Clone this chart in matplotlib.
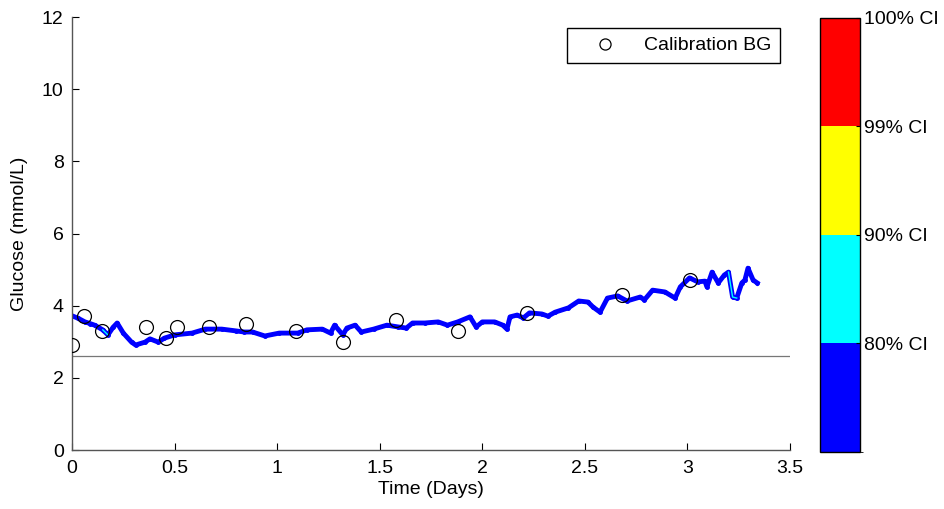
import numpy as np
import matplotlib.pyplot as plt
from matplotlib.colors import ListedColormap, BoundaryNorm
from matplotlib.cm import ScalarMappable

plt.rcParams['font.family'] = ['Liberation Sans', 'DejaVu Sans']

# CGM trace (days, mmol/L)
cgm_t = [0.0, 0.03, 0.063, 0.09, 0.11, 0.15, 0.175, 0.2, 0.22, 0.25, 0.29, 0.31,
         0.356, 0.38, 0.42, 0.45, 0.5, 0.585, 0.65, 0.73, 0.8, 0.84, 0.88, 0.94,
         1.01, 1.1, 1.145, 1.22, 1.26, 1.28, 1.32, 1.34, 1.38, 1.41, 1.47, 1.535,
         1.59, 1.63, 1.66, 1.72, 1.785, 1.83, 1.88, 1.94, 1.97, 2.0, 2.06, 2.1,
         2.12, 2.135, 2.17, 2.2, 2.23, 2.29, 2.32, 2.355, 2.42, 2.47, 2.515, 2.54,
         2.574, 2.61, 2.66, 2.705, 2.77, 2.79, 2.83, 2.89, 2.94, 2.965, 3.01, 3.05,
         3.085, 3.095, 3.12, 3.15, 3.18, 3.2, 3.22, 3.24, 3.265, 3.28, 3.295, 3.32,
         3.34]
cgm_g = [3.72, 3.65, 3.55, 3.5, 3.46, 3.33, 3.19, 3.4, 3.52, 3.24, 2.99, 2.91,
         2.99, 3.08, 2.99, 3.1, 3.19, 3.24, 3.35, 3.35, 3.3, 3.27, 3.27, 3.16,
         3.24, 3.24, 3.33, 3.35, 3.24, 3.46, 3.19, 3.38, 3.46, 3.27, 3.35, 3.46,
         3.41, 3.38, 3.52, 3.52, 3.55, 3.46, 3.55, 3.69, 3.41, 3.55, 3.55, 3.46,
         3.35, 3.69, 3.74, 3.66, 3.8, 3.77, 3.71, 3.82, 3.94, 4.13, 4.1, 3.96,
         3.82, 4.21, 4.27, 4.13, 4.24, 4.16, 4.43, 4.38, 4.21, 4.52, 4.77, 4.66,
         4.68, 4.52, 4.93, 4.63, 4.85, 4.93, 4.24, 4.21, 4.63, 4.71, 5.04, 4.71,
         4.63]

# calibration blood glucose samples
cal_t = [0.0, 0.06, 0.146, 0.36, 0.46, 0.51, 0.67, 0.85, 1.09, 1.32, 1.58, 1.88,
         2.22, 2.68, 3.01]
cal_g = [2.9, 3.7, 3.3, 3.4, 3.1, 3.4, 3.4, 3.5, 3.3, 3.0, 3.6, 3.3, 3.8, 4.3, 4.7]

hypo_line = 2.6
ci_labels = ['80% CI', '90% CI', '99% CI', '100% CI']
ci_colors = ['#0000ff', '#00ffff', '#ffff00', '#ff0000']

fs = 14

fig = plt.figure(figsize=(9.44, 5.09), dpi=100)
ax = fig.add_axes([0.0763, 0.1159, 0.7606, 0.8507])

ax.axhline(hypo_line, color='#777777', lw=0.9, zorder=1)

t = np.array(cgm_t)
g = np.array(cgm_g)
ax.plot(t, g, color='#0000ff', lw=3.5, marker='.', ms=5, zorder=2)
for lo, hi in [(0.14, 0.18), (3.2, 3.24)]:
    m = (t >= lo) & (t <= hi)
    ax.plot(t[m], g[m], color='#00ffff', lw=1.0, zorder=3)

ax.plot(cal_t, cal_g, 'o', mfc='none', mec='black', ms=10, mew=0.9,
        label='Calibration BG', zorder=4)

ax.set_xlim(0, 3.5)
ax.set_ylim(0, 12)
ax.set_xticks([0, 0.5, 1, 1.5, 2, 2.5, 3, 3.5])
ax.set_xticklabels(['0', '0.5', '1', '1.5', '2', '2.5', '3', '3.5'])
ax.set_yticks([0, 2, 4, 6, 8, 10, 12])
ax.tick_params(direction='in', length=5, width=0.8, labelsize=fs, colors='black')
ax.tick_params(axis='y', pad=6)
ax.tick_params(axis='x', pad=7)
for s in ['top', 'right']:
    ax.spines[s].set_visible(False)
for s in ['left', 'bottom']:
    ax.spines[s].set_color('#555555')
    ax.spines[s].set_linewidth(1.0)
ax.set_xlabel('Time (Days)', fontsize=fs, labelpad=3)
ax.set_ylabel('Glucose (mmol/L)', fontsize=fs, labelpad=10)

leg = ax.legend(loc='upper right', bbox_to_anchor=(780 / 944, 1 - 28 / 509),
                bbox_transform=fig.transFigure, fontsize=fs, fancybox=False,
                framealpha=1, edgecolor='black', borderpad=0.45, handlelength=3.0,
                handletextpad=0.5, borderaxespad=0, markerscale=0.8)
leg.get_frame().set_linewidth(1.0)

# confidence colour bar
cax = fig.add_axes([0.8686, 0.112, 0.0424, 0.8527])
cmap = ListedColormap(ci_colors)
norm = BoundaryNorm([0, 1, 2, 3, 4], cmap.N)
cb = fig.colorbar(ScalarMappable(norm=norm, cmap=cmap), cax=cax)
cb.set_ticks([1, 2, 3, 4])
cb.set_ticklabels(ci_labels)
cb.ax.tick_params(direction='in', length=3, width=0.8, labelsize=fs, pad=3)
cb.outline.set_linewidth(1.0)

fig.savefig('out.png', dpi=100)
